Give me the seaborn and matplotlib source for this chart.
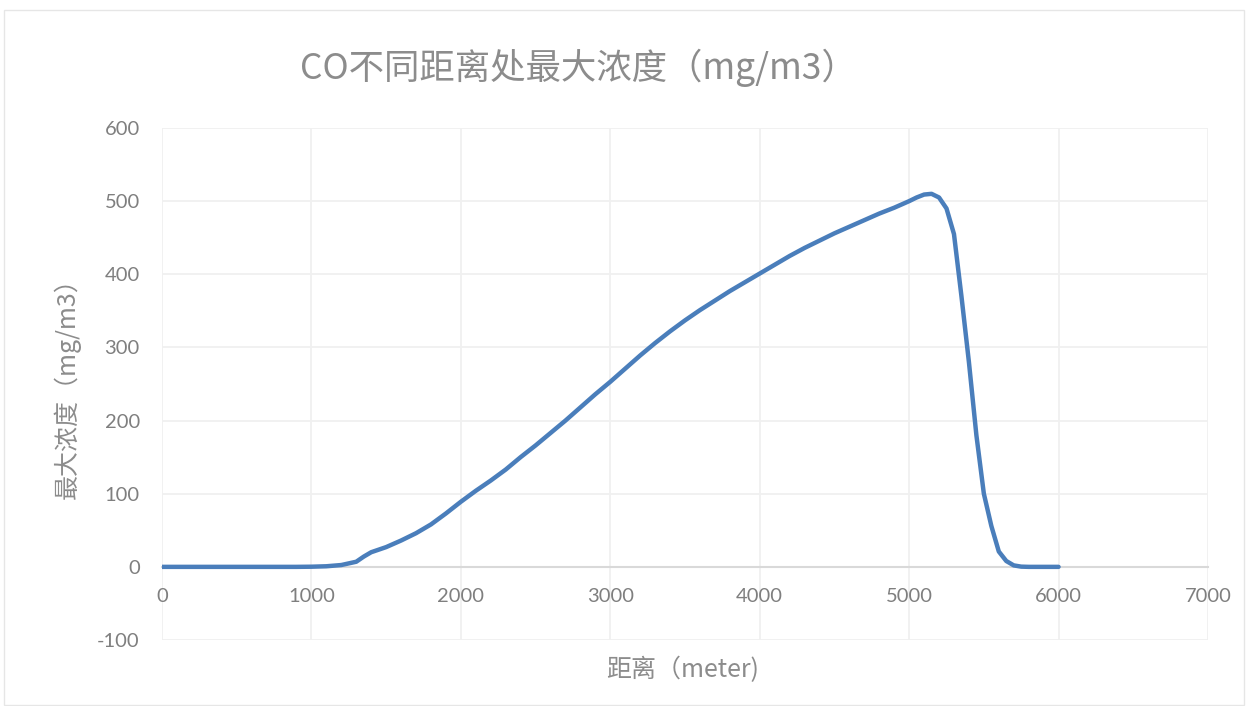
import matplotlib
matplotlib.use("Agg")
import matplotlib.pyplot as plt
import seaborn as sns
import pandas as pd
from matplotlib.patches import Rectangle

# Distance from source (m) and maximum CO concentration (mg/m3)
distance = [0, 100, 200, 300, 400, 500, 600, 700, 800, 900, 1000,
            1100, 1200, 1300, 1350, 1400, 1500, 1600, 1700, 1800, 1900,
            2000, 2100, 2200, 2300, 2400, 2500, 2600, 2700, 2800, 2900,
            3000, 3100, 3200, 3300, 3400, 3500, 3600, 3700, 3800, 3900,
            4000, 4100, 4200, 4300, 4400, 4500, 4600, 4700, 4800, 4900,
            5000, 5050, 5100, 5150, 5200, 5250, 5300, 5350, 5400, 5450,
            5500, 5550, 5600, 5650, 5700, 5750, 5800, 5900, 6000]
concentration = [0, 0, 0, 0, 0, 0, 0, 0, 0, 0, 0.2,
                 0.8, 2.5, 7, 14, 20, 27, 36, 46, 58, 73,
                 89, 104, 118, 133, 150, 166, 183, 200, 218, 236,
                 253, 271, 289, 306, 322, 337, 351, 364, 377, 389,
                 401, 413, 425, 436, 446, 456, 465, 474, 483, 491,
                 500, 505, 509, 510, 505, 490, 455, 370, 280, 180,
                 100, 56, 21, 8, 2, 0.3, 0, 0, 0]

x_ticks = [0, 1000, 2000, 3000, 4000, 5000, 6000, 7000]
y_ticks = [-100, 0, 100, 200, 300, 400, 500, 600]

title = "CO不同距离处最大浓度（mg/m3）"
x_label = "距离（meter)"
y_label = "最大浓度（mg/m3）"

sns.set_style("white")
plt.rcParams["font.family"] = ["Lato", "Noto Sans CJK SC", "DejaVu Sans"]

df = pd.DataFrame({"distance": distance, "concentration": concentration})

fig = plt.figure(figsize=(12.48, 7.06), dpi=100)
ax = fig.add_axes([162 / 1248, 1 - 640 / 706, 1046 / 1248, 512 / 706])

sns.lineplot(data=df, x="distance", y="concentration", ax=ax,
             color="#4a7ebb", linewidth=3.2, solid_capstyle="round",
             solid_joinstyle="round", zorder=3)

ax.set_xlim(0, 7000)
ax.set_ylim(-100, 600)
ax.set_xticks(x_ticks)
ax.set_yticks(y_ticks)
ax.set_xticklabels([str(v) for v in x_ticks])
ax.set_yticklabels([str(v) for v in y_ticks])

ax.grid(True, color="#f0f0f0", linewidth=1.3, zorder=0)
ax.set_axisbelow(True)

for side in ["top", "right", "left"]:
    ax.spines[side].set_visible(False)
ax.spines["bottom"].set_position(("data", 0))
ax.spines["bottom"].set_color("#d9d9d9")
ax.spines["bottom"].set_linewidth(1.5)
ax.spines["bottom"].set_zorder(2)

ax.tick_params(axis="both", length=0, labelsize=14.5, labelcolor="#7f7f7f")
ax.tick_params(axis="x", pad=15)
ax.tick_params(axis="y", pad=16)

ax.set_xlabel(x_label, fontsize=18, color="#8c8c8c",
              family=["Noto Sans CJK SC", "DejaVu Sans"], va="center", ha="center")
ax.xaxis.set_label_coords((683 - 162) / 1046, (640 - 670) / 512)
ax.set_ylabel(y_label, fontsize=18, color="#8c8c8c",
              family=["Noto Sans CJK SC", "DejaVu Sans"], va="center", ha="center")
ax.yaxis.set_label_coords((67 - 162) / 1046, (640 - 382) / 512)

fig.text(578 / 1248, 1 - 68 / 706, title, fontsize=25.5, color="#8c8c8c",
         family=["Noto Sans CJK SC", "DejaVu Sans"], ha="center", va="center")

# Chart area border
fig.patches.append(Rectangle((4 / 1248, 1 / 706), 1240 / 1248, 695 / 706,
                             transform=fig.transFigure, fill=False,
                             edgecolor="#e6e6e6", linewidth=1.0))

fig.savefig("out.png", dpi=100)
